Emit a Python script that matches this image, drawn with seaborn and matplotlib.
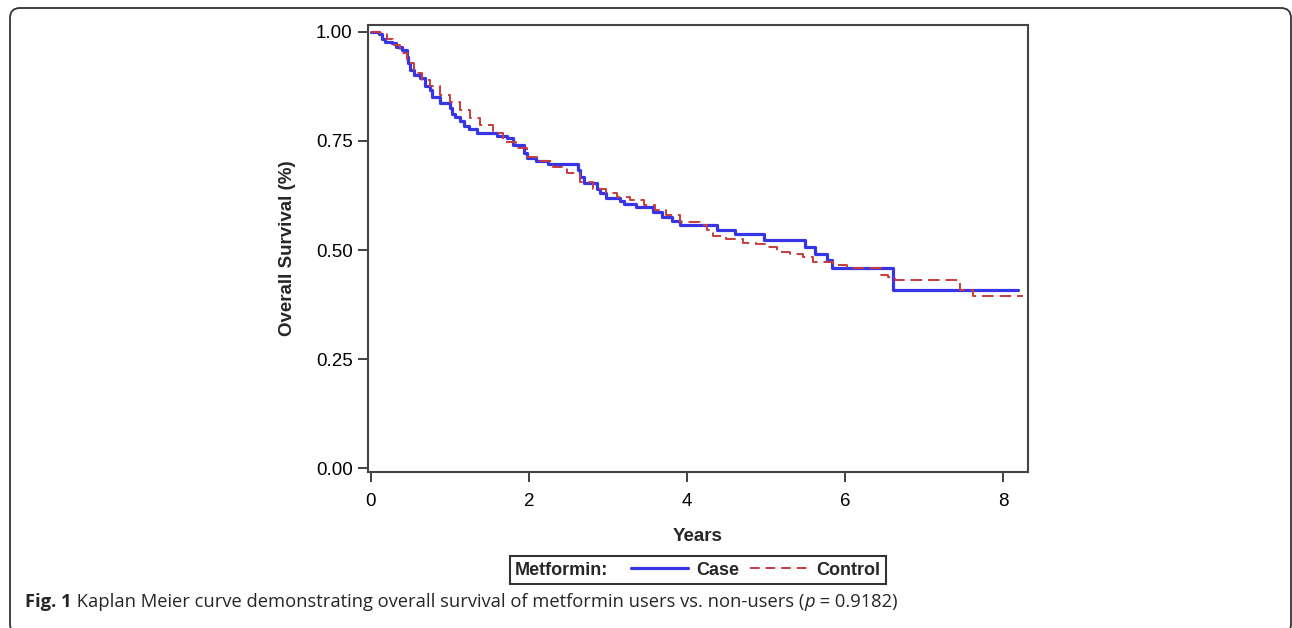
import matplotlib
matplotlib.use('Agg')
import matplotlib.pyplot as plt
import seaborn as sns
from matplotlib.lines import Line2D
from matplotlib.offsetbox import HPacker
from matplotlib.patches import FancyBboxPatch

# Kaplan-Meier step values (years, survival)
case_years = [0.00, 0.10, 0.135, 0.18, 0.26, 0.32, 0.39, 0.45, 0.47, 0.49, 0.54, 0.62,
              0.68, 0.75, 0.77, 0.87, 1.00, 1.03, 1.07, 1.13, 1.18, 1.24, 1.34, 1.59,
              1.72, 1.80, 1.94, 1.97, 2.09, 2.24, 2.62, 2.65, 2.70, 2.86, 2.90, 2.98,
              3.15, 3.20, 3.35, 3.57, 3.68, 3.81, 3.91, 4.38, 4.61, 4.97, 5.49, 5.62,
              5.77, 5.83, 6.61, 8.19]
case_surv = [1.000, 0.995, 0.985, 0.978, 0.974, 0.966, 0.959, 0.943, 0.928, 0.913, 0.901, 0.894,
             0.875, 0.867, 0.850, 0.838, 0.825, 0.813, 0.804, 0.796, 0.784, 0.777, 0.769, 0.761,
             0.756, 0.741, 0.722, 0.712, 0.705, 0.697, 0.683, 0.668, 0.653, 0.641, 0.631, 0.620,
             0.612, 0.605, 0.598, 0.588, 0.576, 0.566, 0.557, 0.547, 0.536, 0.523, 0.508, 0.492,
             0.477, 0.459, 0.408, 0.408]

control_years = [0.00, 0.11, 0.20, 0.28, 0.37, 0.45, 0.54, 0.64, 0.75, 0.87, 1.00, 1.13,
                 1.25, 1.38, 1.55, 1.67, 1.84, 1.97, 2.14, 2.31, 2.48, 2.65, 2.81, 2.98,
                 3.11, 3.28, 3.45, 3.59, 3.74, 3.91, 4.16, 4.25, 4.33, 4.50, 4.71, 4.88,
                 5.01, 5.14, 5.30, 5.47, 5.60, 5.85, 6.02, 6.45, 6.55, 6.63, 7.45, 7.62, 8.25]
control_surv = [1.000, 0.997, 0.985, 0.970, 0.951, 0.928, 0.905, 0.890, 0.875, 0.856, 0.840, 0.821,
                0.802, 0.787, 0.768, 0.748, 0.733, 0.714, 0.703, 0.691, 0.676, 0.657, 0.641, 0.630,
                0.622, 0.615, 0.603, 0.592, 0.580, 0.565, 0.557, 0.546, 0.532, 0.525, 0.517, 0.514,
                0.508, 0.496, 0.491, 0.483, 0.473, 0.466, 0.458, 0.443, 0.439, 0.431, 0.408, 0.395, 0.395]

group_names = ['Case', 'Control']
x_ticks = [0, 2, 4, 6, 8]
y_ticks = [0.00, 0.25, 0.50, 0.75, 1.00]

blue = '#3636e6'
red = '#c83c3c'

sns.set_style('ticks')
plt.rcParams['font.family'] = ['Liberation Sans', 'DejaVu Sans']

fig = plt.figure(figsize=(12.92, 6.28), dpi=100)
ax = fig.add_axes([0.2848, 0.2484, 0.5108, 0.7118])

sns.lineplot(x=case_years, y=case_surv, ax=ax, color=blue, lw=2.3,
             drawstyle='steps-post', estimator=None, sort=False)
sns.lineplot(x=control_years, y=control_surv, ax=ax, color=red, lw=1.4,
             linestyle=(0, (6, 3)), drawstyle='steps-post', estimator=None, sort=False)

ax.set_xlim(-0.038, 8.316)
ax.set_ylim(-0.009, 1.016)
ax.set_xticks(x_ticks)
ax.set_xticklabels([str(t) for t in x_ticks])
ax.set_yticks(y_ticks)
ax.set_yticklabels(['%.2f' % t for t in y_ticks])
ax.tick_params(axis='both', direction='out', length=7, width=1.3, color='#333333',
               labelsize=13.5, labelcolor='black')
ax.tick_params(axis='x', pad=8)
ax.tick_params(axis='y', pad=4)
for s in ax.spines.values():
    s.set_visible(True)
    s.set_linewidth(1.5)
    s.set_color('#444444')

ax.set_xlabel('Years', fontsize=13.5, fontweight='bold', labelpad=13)
ax.set_ylabel('Overall Survival (%)', fontsize=13.5, fontweight='bold', labelpad=14)

# legend in one row: "Metformin:" then the two groups
handles = [Line2D([], [], color=blue, lw=2.3),
           Line2D([], [], color=red, lw=1.4, linestyle=(0, (5, 3)))]
leg = ax.legend(handles, group_names, title='Metformin:', ncol=2, loc='center',
                bbox_to_anchor=(0.54, 0.092), bbox_transform=fig.transFigure,
                frameon=True, fancybox=False, framealpha=1, edgecolor='#333333',
                prop={'weight': 'bold', 'size': 13},
                title_fontproperties={'weight': 'bold', 'size': 13},
                handlelength=3.2, handletextpad=0.45, columnspacing=0.6, borderpad=0.3)
leg.get_frame().set_linewidth(1.5)
old_box = leg._legend_box
row = HPacker(pad=old_box.pad, sep=16, align='center', children=old_box.get_children())
row.set_figure(fig)
row.axes = ax
row.set_offset(leg._findoffset)
leg._legend_box = row

# caption
cap_font = ['Open Sans', 'DejaVu Sans']
cap_size = 13.2
t1 = fig.text(25 / 1292, 1 - 611 / 628, 'Fig. 1', family=cap_font, fontsize=cap_size,
              fontweight='bold', va='bottom', ha='left')
t2 = ax.annotate(' Kaplan Meier curve demonstrating overall survival of metformin users vs. non-users (',
                 xy=(1, 0), xycoords=t1, va='bottom', ha='left', family=cap_font, fontsize=cap_size,
                 annotation_clip=False)
t3 = ax.annotate('p', xy=(1, 0), xycoords=t2, va='bottom', ha='left', family=cap_font,
                 fontsize=cap_size, style='italic', annotation_clip=False)
ax.annotate(' = 0.9182)', xy=(1, 0), xycoords=t3, va='bottom', ha='left', family=cap_font,
            fontsize=cap_size, annotation_clip=False)

# rounded frame around the whole figure
frame = FancyBboxPatch((10, -6), 1281, 626, boxstyle='round,pad=0,rounding_size=10',
                       transform=None, fill=False, edgecolor='#333333', linewidth=1.3)
fig.patches.append(frame)

fig.savefig('out.png', dpi=100)
